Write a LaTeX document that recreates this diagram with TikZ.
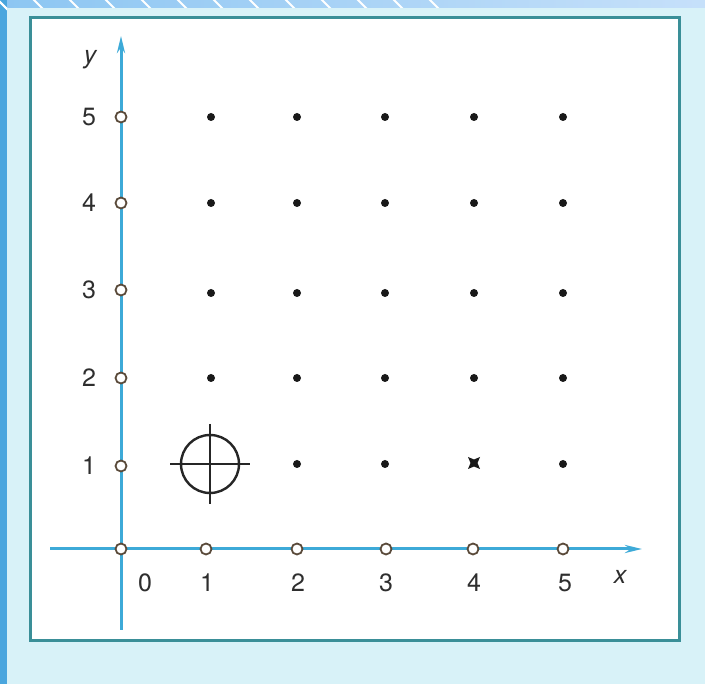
\documentclass[tikz,border=0pt]{standalone}
\usepackage{fontspec}
\setmainfont{TeX Gyre Heros}
\usetikzlibrary{arrows.meta,calc}
\definecolor{bgcyan}{HTML}{D8F2F8}
\definecolor{stripblue}{HTML}{4AA6DE}
\definecolor{bandblue}{HTML}{8CC6F2}
\definecolor{bandlight}{HTML}{C6E0FA}
\definecolor{frameteal}{HTML}{3A8F98}
\definecolor{axisblue}{HTML}{3DAAD8}
\definecolor{txtgray}{HTML}{2E2E2E}
\definecolor{ringbrown}{HTML}{5A4A3A}
\tikzset{
  axisline/.style={draw=axisblue, line width=3pt, -{Stealth[length=17pt,width=8pt]}},
  tickring/.style={circle, draw=ringbrown, fill=white, line width=1.8pt, minimum size=11pt, inner sep=0pt},
  griddot/.style={circle, fill=black!90, minimum size=8pt, inner sep=0pt},
  lbl/.style={text=txtgray, font=\fontsize{25}{25}\selectfont, inner sep=0pt},
  aimline/.style={draw=black!85, line width=2.4pt}
}
\begin{document}
\begin{tikzpicture}[x=1pt,y=-1pt]
\useasboundingbox (0,0) rectangle (705,684);
% background
\fill[bgcyan] (0,0) rectangle (705,684);
\shade[left color=bandblue, right color=bandlight] (0,0) rectangle (705,8);
\fill[stripblue] (0,0) rectangle (7,684);
\foreach \s in {-40,-4,...,460}{
  \draw[white, line width=2pt] (\s,-2) -- (\s+12,10);
}
\foreach \s in {-40,-4,...,20}{
  \draw[white, line width=2pt] (\s,-2) -- (\s+30,28);
}
\fill[bgcyan] (7,8) rectangle (705,684);
\fill[white] (30,18) rectangle (679,641);
\draw[frameteal, line width=3pt] (30,18) rectangle (679,641);
% axes
\coordinate (xs) at (50,549);
\coordinate (xe) at (642,549);
\coordinate (ys) at (121,630);
\coordinate (ye) at (121,36);
\draw[axisline] (xs) -- (xe);
\draw[axisline] (ys) -- (ye);
% axis labels
\node[lbl, font=\fontsize{25}{25}\selectfont\itshape] (ylab) at (90,60) {y};
\node[lbl, font=\fontsize{25}{25}\selectfont\itshape] (xlab) at (620,577) {x};
% tick rings on axes
\node[tickring] (o) at (121,549) {};
\foreach \i/\xx in {1/206,2/297,3/386,4/473,5/563}{
  \node[tickring] (tx\i) at (\xx,549) {};
}
\foreach \i/\yy in {1/466,2/378,3/290,4/203,5/117}{
  \node[tickring] (ty\i) at (121,\yy) {};
  \node[lbl] (ly\i) at (89,\yy) {\i};
}
\node[lbl] (lx0) at (145,583) {0};
\foreach \i/\xx in {1/207,2/298,3/386,4/474,5/565}{
  \node[lbl] (lx\i) at (\xx,583) {\i};
}
% grid dots
\foreach \c/\xx in {1/211,2/297,3/385,4/474,5/563}{
  \foreach \r/\yy in {2/378,3/293,4/203,5/117}{
    \node[griddot] (g\c\r) at (\xx,\yy) {};
  }
}
\foreach \c/\xx in {2/297,3/385,5/563}{
  \node[griddot] (g\c1) at (\xx,464) {};
}
% cross mark at (4,1)
\coordinate (g41) at (474,463);
\fill[black!90] ($(g41)+(-6,-6)$) -- ++(6,2.5) -- ++(6,-2.5) -- ++(-2.5,6) -- ++(2.5,6) -- ++(-6,-2.5) -- ++(-6,2.5) -- ++(2.5,-6) -- cycle;
% aiming crosshair at (1,1)
\coordinate (aim) at (210,464);
\draw[aimline] (aim) circle (29);
\draw[aimline] ($(aim)+(-40,0)$) -- ($(aim)+(40,0)$);
\draw[aimline] ($(aim)+(0,-40)$) -- ($(aim)+(0,40)$);
\end{tikzpicture}
\end{document}
